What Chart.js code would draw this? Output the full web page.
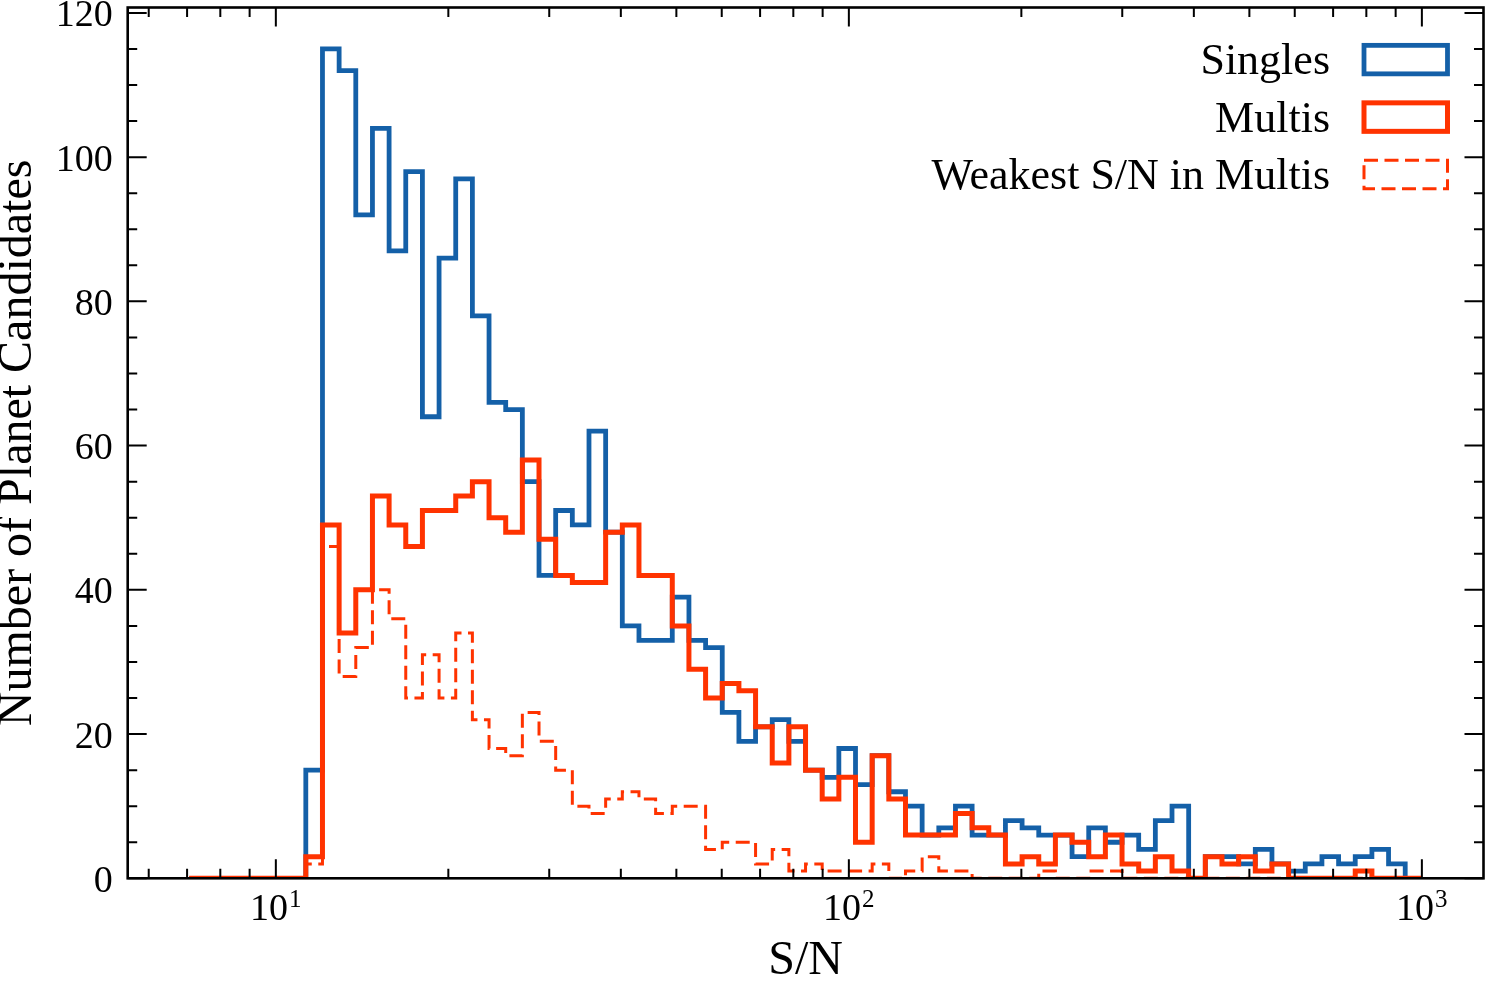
<!DOCTYPE html>
<html>
<head>
<meta charset="utf-8">
<script src="https://cdn.jsdelivr.net/npm/chart.js@4.4.1/dist/chart.umd.min.js"></script>
<style>
  html, body { margin: 0; padding: 0; background: #fff; overflow: hidden; }
  canvas { display: block; }
</style>
</head>
<body>
<canvas id="snr" width="1486" height="986"></canvas>
<script>
// S/N histogram of planet candidates, log-spaced bins (step outlines)
const BIN_LO = 7.06;
const BIN_HI = 1000;
const N_BINS = 74;

// counts per bin
const SINGLES = [
  0, 0, 0, 0, 0, 0, 0, 15, 115, 112,
  92, 104, 87, 98, 64, 86, 97, 78, 66, 65,
  55, 42, 51, 49, 62, 48, 35, 33, 33, 39,
  33, 32, 23, 19, 21, 22, 19, 15, 14, 18,
  13, 17, 12, 10, 6, 7, 10, 6, 6, 8,
  7, 6, 6, 3, 7, 5, 6, 4, 8, 10,
  0, 3, 3, 2, 4, 2, 1, 2, 3, 2,
  3, 4, 2, 0,
];
const MULTIS = [
  0, 0, 0, 0, 0, 0, 0, 3, 49, 34,
  40, 53, 49, 46, 51, 51, 53, 55, 50, 48,
  58, 47, 42, 41, 41, 48, 49, 42, 42, 35,
  29, 25, 27, 26, 21, 16, 21, 15, 11, 14,
  5, 17, 11, 6, 6, 6, 9, 7, 6, 2,
  3, 2, 6, 5, 3, 6, 2, 1, 3, 1,
  0, 3, 2, 3, 1, 2, 0, 0, 0, 0,
  1, 0, 0, 0,
];
const WEAKEST = [
  0, 0, 0, 0, 0, 0, 0, 2, 46, 28,
  32, 40, 36, 25, 31, 25, 34, 22, 18, 17,
  23, 19, 15, 10, 9, 11, 12, 11, 9, 10,
  10, 4, 5, 5, 2, 4, 1, 2, 1, 1,
  1, 2, 0, 1, 3, 1, 1, 0, 0, 0,
  0, 1, 0, 0, 1, 1, 0, 0, 0, 0,
  0, 0, 0, 0, 0, 0, 0, 0, 0, 0,
  0, 0, 0, 0,
];

const SERIES_LABELS = ['Singles', 'Multis', 'Weakest S/N in Multis'];

const X_MIN = 5.514;
const X_MAX = 1281;
const Y_MAX = 120.75;
const X_MAJOR = [10, 100, 1000];
const X_EXPONENTS = ['1', '2', '3'];
const X_MINOR = [6, 7, 8, 9, 20, 30, 40, 50, 60, 70, 80, 90, 200, 300, 400, 500, 600, 700, 800, 900];
const Y_MAJOR = [0, 20, 40, 60, 80, 100, 120];
const Y_MINOR = [5, 10, 15, 25, 30, 35, 45, 50, 55, 65, 70, 75, 85, 90, 95, 105, 110, 115];

const BLUE = '#1460a8';
const RED = '#ff3300';
const SERIF = "'Liberation Serif', 'DejaVu Serif', serif";

// bin edges (log spaced, as np.logspace)
const lo = Math.log10(BIN_LO), hi = Math.log10(BIN_HI);
const edges = [];
for (let k = 0; k <= N_BINS; k++) edges.push(Math.pow(10, lo + (hi - lo) * k / N_BINS));

// histtype='step' outline: start at zero, one point per bin, back to zero
function stepPoints(counts) {
  const pts = [{ x: edges[0], y: 0 }];
  counts.forEach((c, k) => pts.push({ x: edges[k], y: c }));
  pts.push({ x: edges[N_BINS], y: 0 });
  return pts;
}

const mkDataset = (label, counts, color, width, dash, order) => ({
  label,
  data: stepPoints(counts),
  borderColor: color,
  borderWidth: width,
  borderDash: dash,
  stepped: 'before',
  pointRadius: 0,
  fill: false,
  borderJoinStyle: 'miter',
  borderCapStyle: 'butt',
  order,
});

// inward ticks on all four sides + frame, like matplotlib direction='in'
const frameTicks = {
  id: 'frameTicks',
  afterDatasetsDraw(chart) {
    const { ctx, chartArea: a } = chart;
    const xs = chart.scales.x, ys = chart.scales.y;
    ctx.save();
    ctx.strokeStyle = '#000';
    ctx.lineWidth = 2;
    ctx.beginPath();
    const xt = (v, len) => {
      const p = xs.getPixelForValue(v);
      if (p < a.left || p > a.right) return;
      ctx.moveTo(p, a.bottom); ctx.lineTo(p, a.bottom - len);
      ctx.moveTo(p, a.top); ctx.lineTo(p, a.top + len);
    };
    const yt = (v, len) => {
      const p = ys.getPixelForValue(v);
      if (p < a.top || p > a.bottom) return;
      ctx.moveTo(a.left, p); ctx.lineTo(a.left + len, p);
      ctx.moveTo(a.right, p); ctx.lineTo(a.right - len, p);
    };
    X_MAJOR.forEach((v) => xt(v, 19));
    X_MINOR.forEach((v) => xt(v, 9.5));
    Y_MAJOR.forEach((v) => yt(v, 19));
    Y_MINOR.forEach((v) => yt(v, 9.5));
    ctx.stroke();
    ctx.lineWidth = 2.6;
    ctx.strokeRect(a.left, a.top, a.right - a.left, a.bottom - a.top);

    // x tick labels 10^n with a raised exponent
    ctx.fillStyle = '#000';
    ctx.textBaseline = 'alphabetic';
    ctx.textAlign = 'left';
    X_MAJOR.forEach((v, i) => {
      const p = xs.getPixelForValue(v);
      ctx.font = `38px ${SERIF}`;
      const wBase = ctx.measureText('10').width;
      ctx.font = `25px ${SERIF}`;
      const wExp = ctx.measureText(X_EXPONENTS[i]).width;
      const x0 = p - (wBase + wExp + 1) / 2;
      ctx.font = `38px ${SERIF}`;
      ctx.fillText('10', x0, 920);
      ctx.font = `25px ${SERIF}`;
      ctx.fillText(X_EXPONENTS[i], x0 + wBase + 1, 907);
    });
    ctx.restore();
  },
};

// legend: label on the left, outlined box on the right
const boxLegend = {
  id: 'boxLegend',
  afterDraw(chart) {
    const { ctx } = chart;
    const textRight = 1330, boxLeft = 1364, boxW = 83.5, boxH = 28.5;
    const baseline0 = 74.3, pitch = 57.5;
    ctx.save();
    ctx.font = `44px ${SERIF}`;
    ctx.textAlign = 'right';
    ctx.textBaseline = 'alphabetic';
    chart.data.datasets.forEach((ds, i) => {
      const base = baseline0 + i * pitch;
      ctx.fillStyle = '#000';
      ctx.fillText(ds.label, textRight, base);
      ctx.strokeStyle = ds.borderColor;
      ctx.lineWidth = ds.borderWidth;
      ctx.setLineDash(ds.borderDash || []);
      ctx.lineJoin = 'miter';
      ctx.strokeRect(boxLeft, base - 14.7 - boxH / 2, boxW, boxH);
    });
    ctx.restore();
  },
};

new Chart(document.getElementById('snr'), {
  type: 'line',
  data: {
    datasets: [
      mkDataset(SERIES_LABELS[0], SINGLES, BLUE, 4.8, [], 3),
      mkDataset(SERIES_LABELS[1], MULTIS, RED, 5, [], 2),
      mkDataset(SERIES_LABELS[2], WEAKEST, RED, 3, [14, 6.5], 1),
    ],
  },
  options: {
    responsive: false,
    animation: false,
    devicePixelRatio: 1,
    layout: { padding: { left: 0, right: 2.5, top: 7.5, bottom: 0 } },
    plugins: {
      legend: { display: false },
      tooltip: { enabled: false },
    },
    scales: {
      x: {
        type: 'logarithmic',
        bounds: 'data',
        min: X_MIN,
        max: X_MAX,
        grid: { display: false, drawTicks: false },
        border: { display: false },
        afterBuildTicks: (scale) => { scale.ticks = X_MAJOR.map((v) => ({ value: v })); },
        afterFit: (scale) => {
          scale.height = 107.7;
          scale.paddingLeft = 0;
          scale.paddingRight = 0;
        },
        ticks: { display: false, autoSkip: false, maxRotation: 0 },
        title: {
          display: true,
          text: 'S/N',
          color: '#000',
          font: { family: SERIF, size: 48, lineHeight: 0.78 },
          padding: { top: 0, bottom: 6 },
        },
      },
      y: {
        type: 'linear',
        min: 0,
        max: Y_MAX,
        grid: { display: false, drawTicks: false },
        border: { display: false },
        afterBuildTicks: (scale) => { scale.ticks = Y_MAJOR.map((v) => ({ value: v })); },
        afterFit: (scale) => {
          scale.width = 127.7;
          scale.paddingTop = 0;
          scale.paddingBottom = 0;
        },
        ticks: {
          padding: 15,
          labelOffset: 3.5,
          color: '#000',
          font: { family: SERIF, size: 38 },
          callback: (v) => String(v),
        },
        title: {
          display: true,
          text: 'Number of Planet Candidates',
          color: '#000',
          font: { family: SERIF, size: 48, lineHeight: 0.78 },
          padding: { top: 0, bottom: 0 },
        },
      },
    },
  },
  plugins: [frameTicks, boxLegend],
});
</script>
</body>
</html>
